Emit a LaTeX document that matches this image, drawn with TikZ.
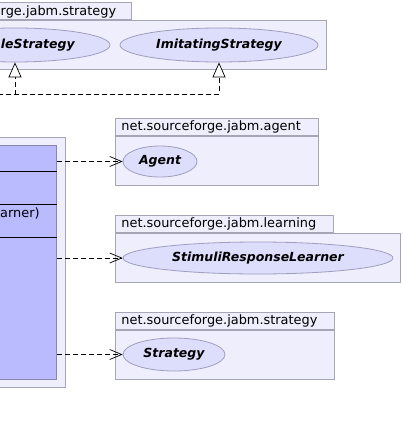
\documentclass[tikz,border=0pt]{standalone}
\usepackage{fontspec}
\setmainfont{DejaVu Sans}
\usetikzlibrary{arrows.meta,shapes.geometric,positioning}
\definecolor{pkgfill}{RGB}{238,238,252}
\definecolor{pkgline}{RGB}{165,165,182}
\definecolor{ellfill}{RGB}{221,221,252}
\definecolor{ellline}{RGB}{158,158,190}
\definecolor{clsfill}{RGB}{186,186,255}
\definecolor{clsline}{RGB}{136,136,172}
\newcommand{\umlfont}{\fontsize{12.5}{15}\selectfont}
\newcommand{\pkgfont}{\fontsize{12.9}{15}\selectfont}
\tikzset{
  pkgbody/.style={draw=pkgline,fill=pkgfill,line width=0.8pt,anchor=north west,inner sep=0pt},
  pkgtab/.style={draw=pkgline,fill=pkgfill,line width=0.8pt,anchor=south west,inner xsep=6pt,inner ysep=0pt,minimum height=17pt,align=left,font=\pkgfont},
  iface/.style={ellipse,draw=ellline,fill=ellfill,line width=0.8pt,inner sep=0pt,font=\umlfont\bfseries\itshape},
  clsbox/.style={draw=clsline,fill=clsfill,line width=0.8pt,inner sep=0pt,anchor=north east},
  dep/.style={line width=0.7pt,dash pattern=on 5pt off 3pt,-{Straight Barb[length=12pt,width=10pt]}},
  real/.style={line width=0.7pt,dash pattern=on 5pt off 3pt,-{Triangle[open,fill=white,length=15pt,width=13pt]}}
}
\begin{document}
\begin{tikzpicture}[x=1pt,y=-1pt,font=\umlfont]
  \useasboundingbox (0,0) rectangle (403,425);
  \clip (0,0) rectangle (403,425);
  % strategy package (top)
  \node[pkgbody,minimum width=366,minimum height=49] (stratpkg) at (-40,20) {};
  \node[pkgtab,text width=160,anchor=south east] (strattab) at (132,20) {};
  \node[anchor=west,inner sep=0pt,font=\pkgfont] at (0.5,12) {rge.jabm.strategy};
  \node[iface,minimum width=190,minimum height=34] (simple) at (15,45) {};
  \node[anchor=east,inner sep=0pt,font=\umlfont\bfseries\itshape] at (75,45) {leStrategy};
  \node[iface,minimum width=198,minimum height=34] (imit) at (219,45) {ImitatingStrategy};
  % left package with the class
  \node[pkgbody,minimum width=105,minimum height=250] (leftpkg) at (-40,137) {};
  \node[clsbox,minimum width=97,minimum height=234] (cls) at (57,145) {};
  \draw[line width=0.8pt] (cls.west |- 0,171) -- (cls.east |- 0,171);
  \draw[line width=0.8pt] (cls.west |- 0,204) -- (cls.east |- 0,204);
  \draw[line width=0.8pt] (cls.west |- 0,237) -- (cls.east |- 0,237);
  \node[anchor=west,inner sep=0pt,font=\pkgfont] at (0,213) {arner)};
  % agent package
  \node[pkgbody,minimum width=203,minimum height=49] (agentpkg) at (115,136) {};
  \node[pkgtab,text width=191] (agenttab) at (agentpkg.north west) {net.sourceforge.jabm.agent};
  \node[iface,minimum width=74,minimum height=31] (agent) at (160,161.5) {Agent};
  % learning package
  \node[pkgbody,minimum width=285,minimum height=49] (learnpkg) at (115,233) {};
  \node[pkgtab,text width=206] (learntab) at (learnpkg.north west) {net.sourceforge.jabm.learning};
  \node[iface,minimum width=270,minimum height=32] (learner) at (258,258) {StimuliResponseLearner};
  % strategy package (bottom)
  \node[pkgbody,minimum width=219,minimum height=49] (strat2pkg) at (115,330) {};
  \node[pkgtab,text width=207] (strat2tab) at (strat2pkg.north west) {net.sourceforge.jabm.strategy};
  \node[iface,minimum width=102,minimum height=33] (strategy) at (174,354.5) {Strategy};
  % dependencies
  \coordinate (src) at (-10,94);
  \draw[real] (src) -| (imit.south);
  \draw[real] (src) -| (simple.south);
  \draw[dep] (cls.east |- agent.west) -- (agent.west);
  \draw[dep] (cls.east |- learner.west) -- (learner.west);
  \draw[dep] (cls.east |- strategy.west) -- (strategy.west);
\end{tikzpicture}
\end{document}
